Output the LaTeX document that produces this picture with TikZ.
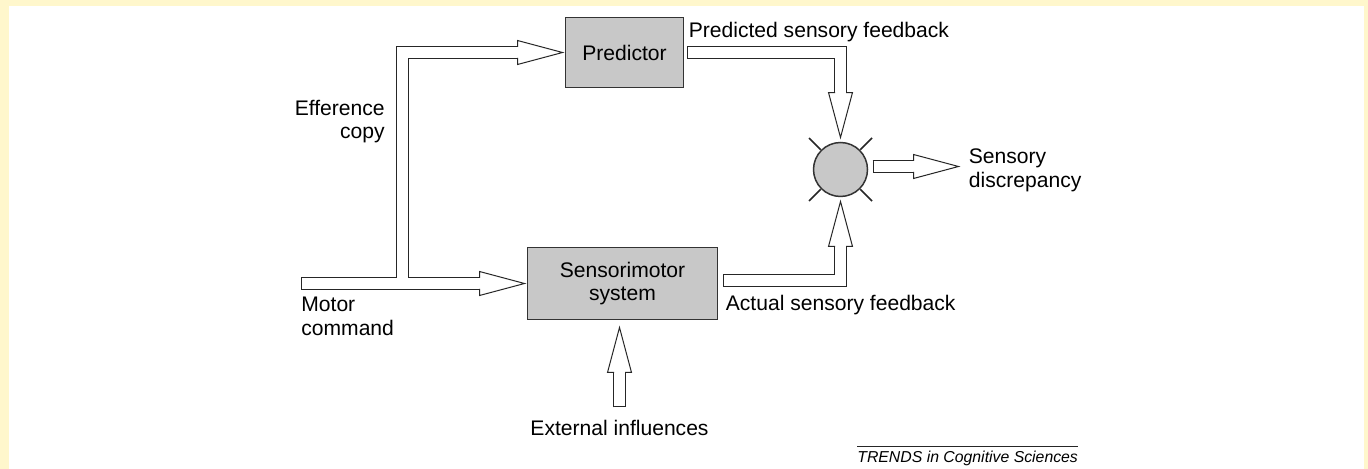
\documentclass[tikz,border=0pt]{standalone}
\usepackage{fontspec}
\setmainfont{Liberation Sans}
\usetikzlibrary{positioning, calc}

\definecolor{paper}{RGB}{255,247,204}
\definecolor{boxgray}{RGB}{200,200,200}

% hollow arrow head: tip at #1, pointing at angle #2
\newcommand{\fathead}[2]{%
  \draw[headtip, shift={(#1)}, rotate=#2] (-45,5.5) -- (-45,12) -- (0,0) -- (-45,-12) -- (-45,-5.5);}

\begin{document}
\begin{tikzpicture}[
        x=0.02cm, y=-0.02cm,
        every node/.style={font=\fontsize{12}{13.4}\selectfont},
        block/.style={rectangle, draw=black!80, line width=0.02cm, fill=boxgray, align=center, inner sep=0pt, outer sep=0pt},
        comparator/.style={circle, draw=black!80, line width=0.03cm, fill=boxgray, minimum size=1.08cm, inner sep=0pt, outer sep=0pt},
        lbl/.style={inner sep=0pt},
        fatline/.style={draw=black!85, line width=0.26cm, shorten >=0.88cm},
        fatfill/.style={draw=white, line width=0.22cm, shorten >=0.88cm, shorten <=0.02cm},
        headtip/.style={draw=black!85, fill=white, line width=0.02cm, line join=miter},
        ray/.style={draw=black!85, line width=0.03cm}
    ]
    \fill[paper] (0,0) rectangle (1368,469);
    \fill[white] (9,6) rectangle (1364,469);

    \node[block, minimum width=2.36cm, minimum height=1.4cm] (pred) at (624.5,52.5) {Predictor};
    \node[block, minimum width=3.8cm, minimum height=1.44cm] (sens) at (622.5,283.5) {Sensorimotor\\system};
    \node[comparator] (cmp) at (840.5,169.5) {};

    \coordinate (mc) at ($(sens.west)+(-226.5,0)$);
    \coordinate (jn) at ($(mc)+(101.5,0)$);
    \coordinate (mtip) at ($(sens.west)+(-3,0)$);
    \coordinate (etip) at ($(pred.west)+(-3,0)$);
    \coordinate (ptip) at ($(cmp.north)+(0,-5)$);
    \coordinate (atip) at ($(cmp.south)+(0,5)$);
    \coordinate (dtip) at ($(cmp.east)+(91,-3)$);
    \coordinate (xtip) at ($(sens.south)+(-3,8)$);
    \coordinate (xbase) at ($(sens.south)+(-3,88)$);

    \foreach \a in {45,135,225,315}
        \draw[ray] ($(cmp.center)!1.04!(cmp.\a)$) -- ($(cmp.center)!1.65!(cmp.\a)$);

    \foreach \s in {fatline,fatfill} {
        \draw[\s] (mc) -- (mtip);
        \draw[\s] (jn) |- (etip);
        \draw[\s] ($(pred.east)+(4,0)$) -| (ptip);
        \draw[\s] ($(sens.east)+(6,-3)$) -| (atip);
        \draw[\s] ($(cmp.east)+(5,-3)$) -- (dtip);
        \draw[\s] (xbase) -- (xtip);
    }
    \fathead{mtip}{0}
    \fathead{etip}{0}
    \fathead{ptip}{-90}
    \fathead{atip}{90}
    \fathead{dtip}{0}
    \fathead{xtip}{90}

    \node[lbl, anchor=base west] (predlbl) at ($(pred.north east)+(5,19.5)$) {Predicted sensory feedback};
    \node[lbl, anchor=east, align=right] (efflbl) at (385,121.5) {Efference\\copy};
    \node[lbl, anchor=north west, align=left] (motorlbl) at ($(mc)+(0,13.5)$) {Motor\\command};
    \node[lbl, anchor=base west] (actlbl) at ($(sens.east)+(8,27.5)$) {Actual sensory feedback};
    \node[lbl, anchor=west, align=left] (disclbl) at ($(dtip)+(10,4)$) {Sensory\\discrepancy};
    \node[lbl, below=0.24cm of xbase] (extlbl) {External influences};

    \node[lbl, anchor=base west, font=\fontsize{9}{10}\selectfont\itshape] (credit) at (857,462) {TRENDS in Cognitive Sciences};
    \draw[black!85, line width=0.5pt] ($(credit.north west)+(0,-3.5)$) -- ($(credit.north east)+(0,-3.5)$);
\end{tikzpicture}
\end{document}
